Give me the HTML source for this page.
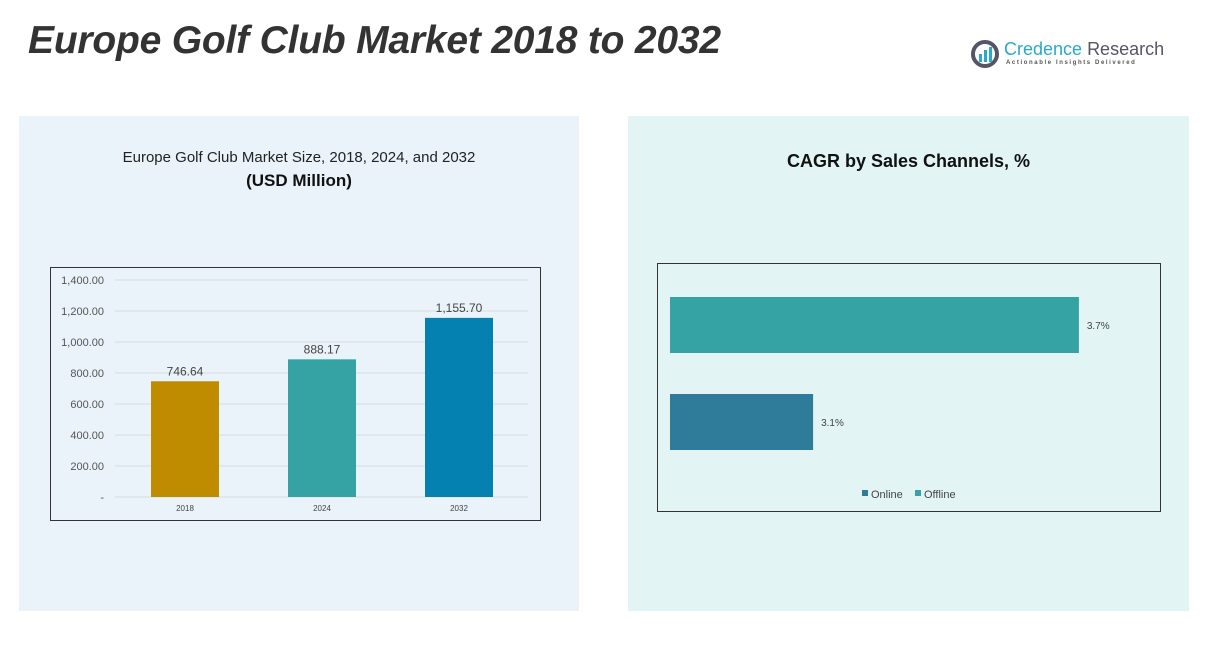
<!DOCTYPE html>
<html><head><meta charset="utf-8"><style>
body{margin:0;width:1210px;height:646px;background:#fff;font-family:"Liberation Sans",sans-serif;position:relative;overflow:hidden}
.abs{position:absolute}
</style></head><body>
<div class="abs" style="left:28px;top:19px;font-size:39px;font-weight:bold;font-style:italic;color:#333;letter-spacing:-0.2px">Europe Golf Club Market 2018 to 2032</div>
<div class="abs" style="left:970px;top:38px;width:200px;height:34px">
 <svg width="32" height="32" style="position:absolute;left:0;top:0"><circle cx="15" cy="16" r="12" fill="none" stroke="#556" stroke-width="4"/><rect x="9" y="16" width="3" height="8" fill="#2aa9c9"/><rect x="14" y="12" width="3" height="12" fill="#2aa9c9"/><rect x="19" y="9" width="3" height="15" fill="#2aa9c9"/></svg>
 <div class="abs" style="left:34px;top:1px;font-size:18px;color:#2aa9c9;white-space:nowrap">Credence <span style="color:#556">Research</span></div>
 <div class="abs" style="left:36px;top:22px;font-size:6px;letter-spacing:1.6px;color:#555;white-space:nowrap;font-weight:bold">Actionable Insights Delivered</div>
</div>
<div class="abs" style="left:19px;top:116px;width:560px;height:495px;background:#eaf3f9"></div>
<div class="abs" style="left:628px;top:116px;width:561px;height:495px;background:#e3f4f5"></div>
<div class="abs" style="left:19px;top:149px;width:560px;text-align:center;font-size:15px;color:#222">Europe Golf Club Market Size, 2018, 2024, and 2032</div>
<div class="abs" style="left:19px;top:171px;width:560px;text-align:center;font-size:17px;font-weight:bold;color:#111">(USD Million)</div>
<div class="abs" style="left:628px;top:151px;width:561px;text-align:center;font-size:18px;font-weight:bold;color:#111">CAGR by Sales Channels, %</div>
<svg class="abs" style="left:0;top:0" width="1210" height="646" id="svg">
<rect x="50.5" y="267.5" width="490" height="253" fill="none" stroke="#333"/>
<rect x="657.5" y="263.5" width="503" height="248" fill="none" stroke="#333"/>
<g id="left"></g><g id="right"></g>
</svg>
<script>
const years=["2018","2024","2032"];
const marketValues=[746.64,888.17,1155.70];
const valueLabels=["746.64","888.17","1,155.70"];
const yTicks=[0,200,400,600,800,1000,1200,1400];
const yTickLabels=["-","200.00","400.00","600.00","800.00","1,000.00","1,200.00","1,400.00"];
const channels=["Offline","Online"];
const cagrValues=[3.7,3.1];
const cagrLabels=["3.7%","3.1%"];
const NS="http://www.w3.org/2000/svg";
function mk(t,a,p){const e=document.createElementNS(NS,t);for(const k in a)e.setAttribute(k,a[k]);p.appendChild(e);return e;}
const L=document.getElementById('left');
const y=v=>497-v*(217/1400);
const xc=i=>185+i*137;
yTicks.forEach((t,i)=>{
 const g=mk('line',{x1:115,x2:528,y1:y(t),y2:y(t),stroke:'#d8dde0'},L);
 
 
 const tx=mk('text',{x:104,y:y(t)+4,'text-anchor':'end','font-size':11,fill:'#555'},L);
 tx.textContent=yTickLabels[i];
 
 
});
const cols=["#bf8c00","#35a3a3","#0481b0"];
years.forEach((yr,i)=>{
 const r=mk('rect',{x:xc(i)-34,y:y(marketValues[i]),width:68,height:497-y(marketValues[i]),fill:cols[i]},L);
 
 
 const t=mk('text',{x:xc(i),y:y(marketValues[i])-6,'text-anchor':'middle','font-size':12,fill:'#444'},L);
 t.textContent=valueLabels[i];
 
 
 const xl=mk('text',{x:xc(i),y:511,'text-anchor':'middle','font-size':8,fill:'#444'},L);
 xl.textContent=yr;
 
 
});
const R=document.getElementById('right');
const xr=v=>670+(v-2.777)*443;
const rcols=["#35a3a3","#2f7b9a"];
channels.forEach((c,i)=>{
 const top=297+i*97;
 const r=mk('rect',{x:670,y:top,width:xr(cagrValues[i])-670,height:56,fill:rcols[i]},R);
 
 
 const t=mk('text',{x:xr(cagrValues[i])+8,y:top+32,'font-size':10,fill:'#444'},R);
 t.textContent=cagrLabels[i];
 
 
});
[["Online","#2f7b9a",862],["Offline","#35a3a3",915]].forEach(l=>{
 const s=mk('rect',{x:l[2],y:490,width:6,height:6,fill:l[1]},R);
 
 
 const t=mk('text',{x:l[2]+9,y:498,'font-size':11,fill:'#444'},R);
 t.textContent=l[0];
 
 
});
</script>
</body></html>
